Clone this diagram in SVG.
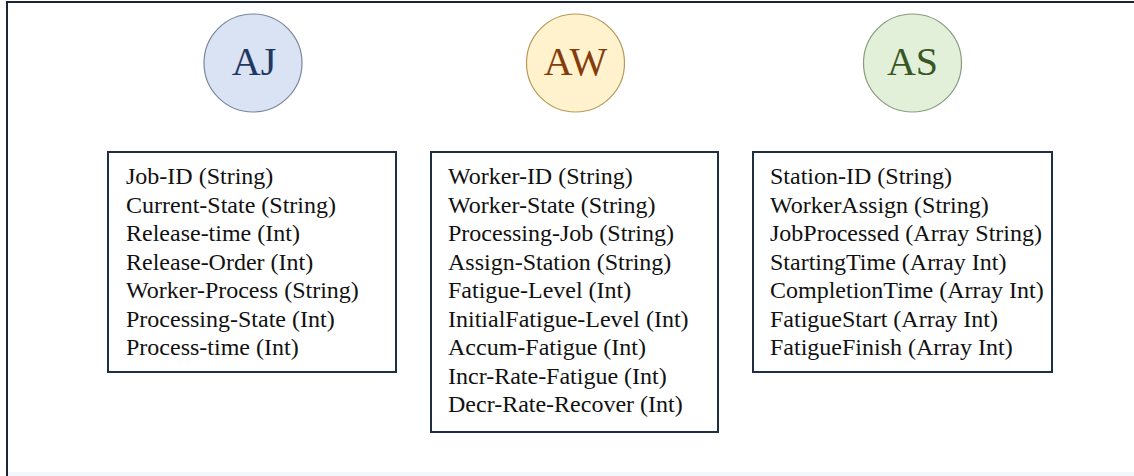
<svg xmlns="http://www.w3.org/2000/svg" width="1134" height="476" viewBox="0 0 1134 476">
<style>
.frame{fill:none;stroke:#1c2636;stroke-width:2}
.box{fill:#ffffff;stroke:#1f2d45;stroke-width:2}
.lbl{font-family:"Liberation Serif","Times New Roman",serif;font-size:40px;text-anchor:middle}
.attr{font-family:"Liberation Serif","Times New Roman",serif;font-size:24px;fill:#111111}
</style>
<rect x="0" y="0" width="1134" height="476" fill="#ffffff"/>
<rect x="7" y="472" width="1127" height="4" fill="#f1f7fb"/>
<path class="frame" d="M7,476 V2 H1134"/>
<g id="AJ">
<circle cx="253" cy="63" r="49" fill="#dae3f3" stroke="#7a879c" stroke-width="1.2"/>
<text class="lbl" x="254" y="75" fill="#1f3864">AJ</text>
</g>
<g id="AW">
<circle cx="575.5" cy="63" r="49" fill="#fff2cc" stroke="#b59a5a" stroke-width="1.2"/>
<text class="lbl" x="575.5" y="75" fill="#843c0c">AW</text>
</g>
<g id="AS">
<circle cx="912.5" cy="63" r="49" fill="#e2f0d9" stroke="#8a9a80" stroke-width="1.2"/>
<text class="lbl" x="912.5" y="75" fill="#385723">AS</text>
</g>
<g id="AJ-attrs">
<rect class="box" x="108" y="152" width="288" height="220"/>
<text class="attr" x="126" y="184">Job-ID (String)</text>
<text class="attr" x="126" y="212.5">Current-State (String)</text>
<text class="attr" x="126" y="241">Release-time (Int)</text>
<text class="attr" x="126" y="269.5">Release-Order (Int)</text>
<text class="attr" x="126" y="298">Worker-Process (String)</text>
<text class="attr" x="126" y="326.5">Processing-State (Int)</text>
<text class="attr" x="126" y="355">Process-time (Int)</text>
</g>
<g id="AW-attrs">
<rect class="box" x="431" y="152" width="287" height="280"/>
<text class="attr" x="448" y="184">Worker-ID (String)</text>
<text class="attr" x="448" y="212.5">Worker-State (String)</text>
<text class="attr" x="448" y="241">Processing-Job (String)</text>
<text class="attr" x="448" y="269.5">Assign-Station (String)</text>
<text class="attr" x="448" y="298">Fatigue-Level (Int)</text>
<text class="attr" x="448" y="326.5">InitialFatigue-Level (Int)</text>
<text class="attr" x="448" y="355">Accum-Fatigue (Int)</text>
<text class="attr" x="448" y="383.5">Incr-Rate-Fatigue (Int)</text>
<text class="attr" x="448" y="412">Decr-Rate-Recover (Int)</text>
</g>
<g id="AS-attrs">
<rect class="box" x="753" y="152" width="299" height="220"/>
<text class="attr" x="770" y="184">Station-ID (String)</text>
<text class="attr" x="770" y="212.5">WorkerAssign (String)</text>
<text class="attr" x="770" y="241">JobProcessed (Array String)</text>
<text class="attr" x="770" y="269.5">StartingTime (Array Int)</text>
<text class="attr" x="770" y="298">CompletionTime (Array Int)</text>
<text class="attr" x="770" y="326.5">FatigueStart (Array Int)</text>
<text class="attr" x="770" y="355">FatigueFinish (Array Int)</text>
</g>
<g id="connectors"></g>
</svg>
